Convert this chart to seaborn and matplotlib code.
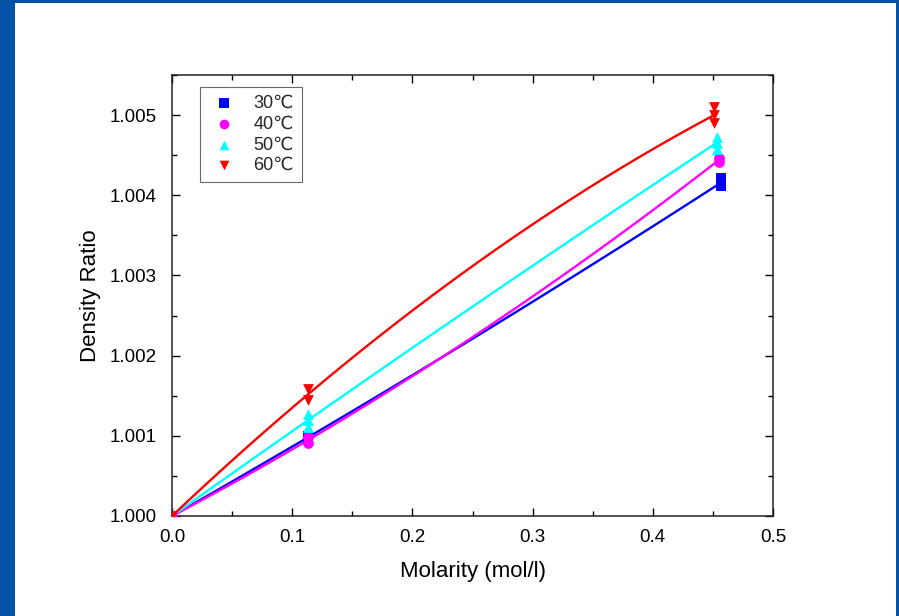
import numpy as np
import pandas as pd
import matplotlib
matplotlib.use("Agg")
import matplotlib.pyplot as plt
import seaborn as sns
from matplotlib.ticker import MultipleLocator, FormatStrFormatter
from matplotlib.patches import Rectangle

# ---- data ----
labels = ["30℃", "40℃", "50℃", "60℃"]
colors = ["#0000ff", "#ff00ff", "#00ffff", "#ff0000"]
markers = ["s", "o", "^", "v"]

x30 = [0.0, 0.113, 0.113, 0.457, 0.457]
y30 = [1.00000, 1.00100, 1.00096, 1.00421, 1.00411]
x40 = [0.0, 0.113, 0.113, 0.455, 0.455]
y40 = [1.00000, 1.00098, 1.00091, 1.00446, 1.00442]
x50 = [0.0, 0.113, 0.113, 0.113, 0.453, 0.453, 0.453]
y50 = [1.00000, 1.00127, 1.00120, 1.00111, 1.00473, 1.00465, 1.00458]
x60 = [0.0, 0.113, 0.113, 0.451, 0.451, 0.451]
y60 = [1.00000, 1.00158, 1.00145, 1.00510, 1.00500, 1.00490]

xs = [x30, x40, x50, x60]
ys = [y30, y40, y50, y60]

sns.set_style("ticks")
plt.rcParams["font.family"] = ["Liberation Sans", "DejaVu Sans"]

fig = plt.figure(figsize=(8.99, 6.16), dpi=100)
fig.patch.set_facecolor("#0352a6")
bg = Rectangle((15 / 899, 0), (896 - 15) / 899, 1 - 3 / 616,
               transform=fig.transFigure, facecolor="white",
               edgecolor="none", zorder=-10)
fig.add_artist(bg)
ax = fig.add_axes([172 / 899, 1 - 516 / 616, (773 - 172) / 899, (516 - 75) / 616])
ax.set_zorder(5)
ax.set_facecolor("white")

for lab, c, m, xv, yv in zip(labels, colors, markers, xs, ys):
    df = pd.DataFrame({"x": xv, "y": yv})
    sns.regplot(data=df, x="x", y="y", order=2, ci=None, scatter=False,
                color=c, line_kws={"lw": 1.7}, truncate=True, ax=ax)
for lab, c, m, xv, yv in zip(labels, colors, markers, xs, ys):
    df = pd.DataFrame({"x": xv, "y": yv})
    sns.scatterplot(data=df, x="x", y="y", marker=m, color=c, s=60,
                    edgecolor=c, linewidth=0, label=lab, ax=ax, zorder=3)

ax.set_xlim(0, 0.5)
ax.set_ylim(1.0, 1.0055)
ax.xaxis.set_major_locator(MultipleLocator(0.1))
ax.xaxis.set_minor_locator(MultipleLocator(0.05))
ax.yaxis.set_major_locator(MultipleLocator(0.001))
ax.yaxis.set_minor_locator(MultipleLocator(0.0005))
ax.xaxis.set_major_formatter(FormatStrFormatter("%.1f"))
ax.yaxis.set_major_formatter(FormatStrFormatter("%.3f"))
ax.tick_params(which="both", direction="in", top=True, right=True,
               labeltop=False, labelright=False, labelsize=13.5, colors="black",
               width=1.0)
ax.tick_params(which="major", length=6)
ax.tick_params(which="minor", length=3.5)
ax.tick_params(axis="x", pad=9.5)
ax.tick_params(axis="y", pad=11)
for sp in ax.spines.values():
    sp.set_visible(True)
    sp.set_linewidth(1.1)
    sp.set_color("#222222")

ax.set_xlabel("Molarity (mol/l)", fontsize=16, labelpad=11, color="black")
ax.set_ylabel("Density Ratio", fontsize=16, labelpad=6, color="black")

leg = ax.legend(loc="upper left", bbox_to_anchor=((200 - 172) / 601, (516 - 87) / 441),
                borderaxespad=0, fontsize=13,
                frameon=True, fancybox=False, edgecolor="#444444",
                handletextpad=0.7, borderpad=0.45, labelspacing=0.2,
                handlelength=1.8, markerscale=0.9)
leg.get_frame().set_linewidth(0.8)

fig.savefig("out.png", dpi=100, facecolor=fig.get_facecolor())
